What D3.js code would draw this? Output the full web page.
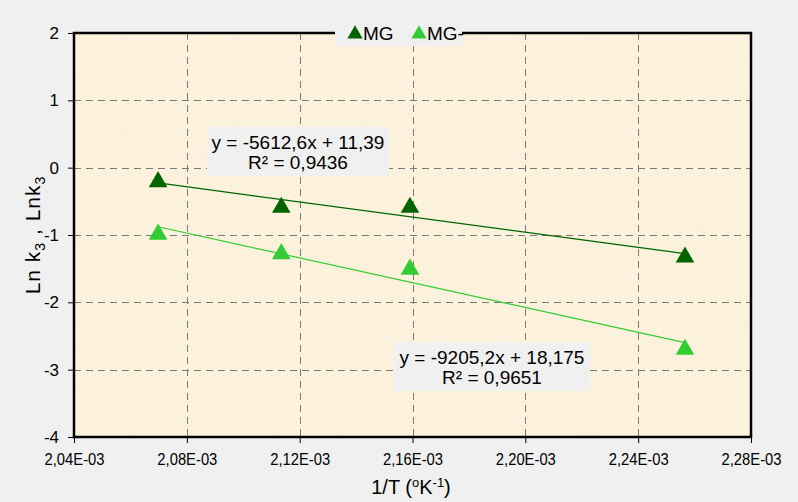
<!DOCTYPE html>
<html><head><meta charset="utf-8">
<script src="https://cdn.jsdelivr.net/npm/d3@7"></script>
<style>
html,body{margin:0;padding:0;background:#F0F0F0;}
svg{display:block;font-family:Arial,"Liberation Sans",sans-serif;}
</style></head>
<body>
<script>
// ---- data ----
const invT = [0.0020698, 0.0021135, 0.0021591, 0.0022566];
const mgValues = [-0.21, -0.59, -0.59, -1.33];
const mgMinusValues = [-0.99, -1.28, -1.51, -2.70];
const seriesNames = ["MG", "MG-"];
const trendSlopes = [-5612.6, -9205.2];
const trendIntercepts = [11.39, 18.175];
const trendLabels = [["y = -5612,6x + 11,39", "R² = 0,9436"], ["y = -9205,2x + 18,175", "R² = 0,9651"]];
const xTicks = [0.00204, 0.00208, 0.00212, 0.00216, 0.00220, 0.00224, 0.00228];
const xTickLabels = ["2,04E-03","2,08E-03","2,12E-03","2,16E-03","2,20E-03","2,24E-03","2,28E-03"];
const yTicks = [2, 1, 0, -1, -2, -3, -4];
const yTickLabels = ["2", "1", "0", "-1", "-2", "-3", "-4"];

const colors = ["#006400", "#33CC33"];
const W = 798, H = 502;
const L = 74, R = 751, T = 33, B = 437;

const svg = d3.select("body").append("svg").attr("width", W).attr("height", H);
const defs = svg.append("defs");
const f = defs.append("filter").attr("id","paper").attr("x",0).attr("y",0).attr("width","100%").attr("height","100%");
f.append("feTurbulence").attr("type","fractalNoise").attr("baseFrequency","0.035").attr("numOctaves",3).attr("seed",4).attr("result","n");
f.append("feColorMatrix").attr("in","n").attr("type","matrix")
 .attr("values","0 0 0 0 0.93  0 0 0 0 0.86  0 0 0 0 0.72  0 0 0 -1.1 0.75");
f.append("feComposite").attr("in2","SourceGraphic").attr("operator","in");

svg.append("rect").attr("width",W).attr("height",H).attr("fill","#F0F0F0");

const x = d3.scaleLinear().domain([0.00204, 0.00228]).range([L, R]);
const y = d3.scaleLinear().domain([-4, 2]).range([B, T]);

// plot background
svg.append("rect").attr("x",L).attr("y",T).attr("width",R-L).attr("height",B-T).attr("fill","#FDF2DC");
svg.append("rect").attr("x",L).attr("y",T).attr("width",R-L).attr("height",B-T).attr("fill","#FDF2DC").attr("filter","url(#paper)").attr("opacity",0.5);

// grid
const grid = svg.append("g").attr("stroke","#7a7a7a").attr("stroke-width",1).attr("stroke-dasharray","7,5");
grid.selectAll(".vg").data(xTicks.slice(1,-1)).join("line")
  .attr("x1",d=>Math.round(x(d))+0.5).attr("x2",d=>Math.round(x(d))+0.5).attr("y1",T).attr("y2",B);
grid.selectAll(".hg").data(yTicks.slice(1,-1)).join("line")
  .attr("y1",d=>Math.round(y(d))+0.5).attr("y2",d=>Math.round(y(d))+0.5).attr("x1",L).attr("x2",R);

// axes
const xAxis = d3.axisBottom(x).tickValues(xTicks).tickSize(6).tickSizeOuter(0)
  .tickFormat((d,i)=>xTickLabels[i]);
const gx = svg.append("g").attr("transform",`translate(0,${B})`).call(xAxis);
gx.attr("font-size",null).attr("font-family",null);
gx.select(".domain").remove();
gx.selectAll("line").attr("stroke","#000");
gx.selectAll("text").style("font-size","17px").attr("fill","#000").attr("y",28).attr("dy",0)
  .attr("textLength",60).attr("lengthAdjust","spacingAndGlyphs")
  .style("font-family","Arial,'Liberation Sans',sans-serif");

const yAxis = d3.axisLeft(y).tickValues(yTicks).tickSize(6).tickSizeOuter(0).tickFormat((d,i)=>yTickLabels[i]);
const gy = svg.append("g").attr("transform",`translate(${L},0)`).call(yAxis);
gy.attr("font-size",null).attr("font-family",null);
gy.select(".domain").remove();
gy.selectAll("line").attr("stroke","#000");
gy.selectAll("text").style("font-size","17px").attr("fill","#000").attr("x",-15)
  .style("font-family","Arial,'Liberation Sans',sans-serif");

// border
svg.append("rect").attr("x",L).attr("y",T).attr("width",R-L).attr("height",B-T)
  .attr("fill","none").attr("stroke","#000").attr("stroke-width",2.5);

// trend lines
const seriesData = [mgValues, mgMinusValues];
seriesData.forEach((vals,i)=>{
  const x0 = d3.min(invT), x1 = d3.max(invT);
  svg.append("line")
    .attr("x1",x(x0)).attr("y1",y(trendSlopes[i]*x0+trendIntercepts[i]))
    .attr("x2",x(x1)).attr("y2",y(trendSlopes[i]*x1+trendIntercepts[i]))
    .attr("stroke",colors[i]).attr("stroke-width",1.2);
});

// markers
const tri = d3.symbol().type(d3.symbolTriangle).size(150);
seriesData.forEach((vals,i)=>{
  svg.append("g").selectAll("path").data(vals).join("path")
    .attr("d",tri).attr("fill",colors[i])
    .attr("transform",(d,j)=>`translate(${x(invT[j])},${y(d)})`);
});

// trend equation labels
const labelPos = [{cx:298, y0:127, w:182}, {cx:492, y0:342, w:196}];
trendLabels.forEach((lines,i)=>{
  const p = labelPos[i];
  svg.append("rect").attr("x",p.cx-p.w/2).attr("y",p.y0).attr("width",p.w).attr("height",49).attr("fill","#F0F0F0");
  lines.forEach((t,k)=>{
    svg.append("text").attr("x",p.cx).attr("y",p.y0+22+k*20).attr("text-anchor","middle")
      .style("font-size","19px").attr("fill","#000").text(t);
  });
});

// legend
const lg = svg.append("g");
lg.append("rect").attr("x",335).attr("y",20).attr("width",127).attr("height",26).attr("fill","#F0F0F0");
const legX = [355, 419];
seriesNames.forEach((n,i)=>{
  lg.append("path").attr("d",d3.symbol().type(d3.symbolTriangle).size(100))
    .attr("fill",colors[i]).attr("transform",`translate(${legX[i]},${34})`);
  lg.append("text").attr("x",legX[i]+8).attr("y",40).style("font-size","19px").attr("fill","#000").text(n);
});

// axis titles
const yt = svg.append("text").attr("transform","translate(40,235) rotate(-90)")
  .attr("text-anchor","middle").style("font-size","21px").style("letter-spacing","1px").attr("fill","#000");
yt.append("tspan").text("Ln k");
yt.append("tspan").style("font-size","14px").attr("dy",5).text("3");
yt.append("tspan").attr("dy",-5).text(" , Lnk");
yt.append("tspan").style("font-size","14px").attr("dy",5).text("3");

const xt = svg.append("text").attr("x",411).attr("y",494).attr("text-anchor","middle")
  .style("font-size","20px").attr("fill","#000");
xt.append("tspan").text("1/T (");
xt.append("tspan").style("font-size","13px").attr("dy",-7).text("o");
xt.append("tspan").attr("dy",7).text("K");
xt.append("tspan").style("font-size","13px").attr("dy",-7).text("-1");
xt.append("tspan").attr("dy",7).text(")");
</script>
</body></html>
